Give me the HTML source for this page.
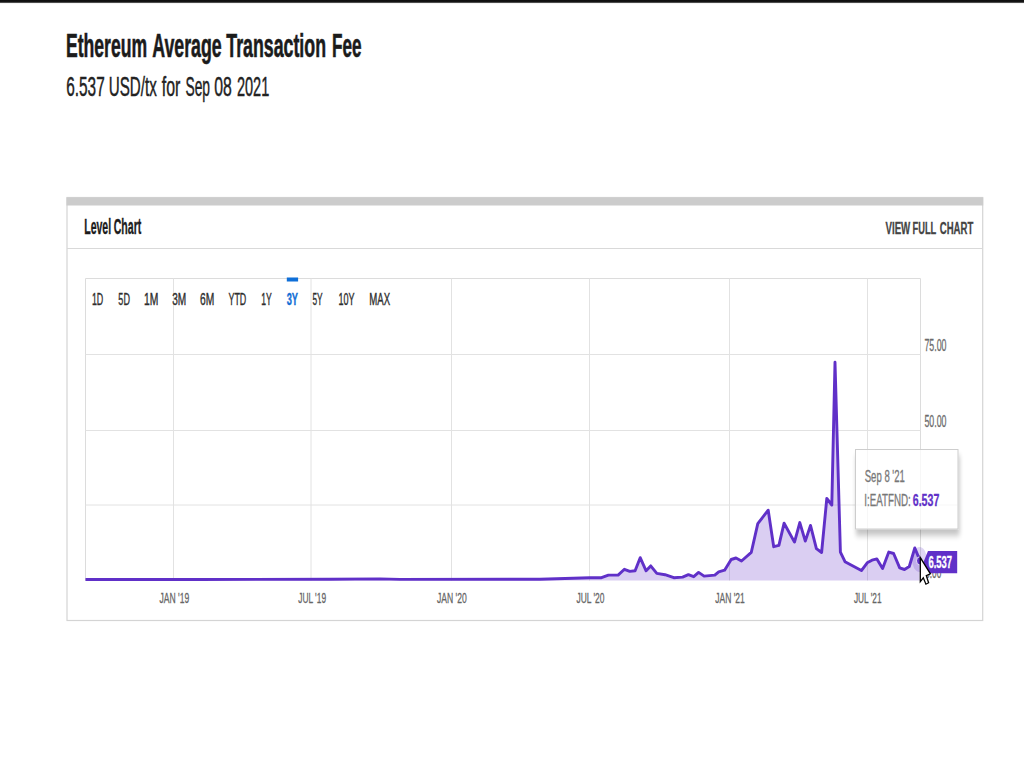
<!DOCTYPE html>
<html>
<head>
<meta charset="utf-8">
<title>Ethereum Average Transaction Fee</title>
<style>
html,body{margin:0;padding:0;background:#fff;width:1024px;height:768px;overflow:hidden}
svg{display:block;position:absolute;left:0;top:0}
text{font-family:"Liberation Sans",sans-serif}
.b{font-weight:bold}
</style>
</head>
<body>
<svg width="1024" height="768" viewBox="0 0 1024 768">
<defs>
<linearGradient id="topbar" x1="0" y1="0" x2="0" y2="1">
<stop offset="0" stop-color="#0e0e0e"/><stop offset="0.6" stop-color="#161616"/><stop offset="1" stop-color="#ffffff"/>
</linearGradient>
<filter id="sh" x="-20%" y="-20%" width="140%" height="160%">
<feGaussianBlur in="SourceAlpha" stdDeviation="2.2 3.4"/>
<feOffset dx="1" dy="5.5" result="o"/>
<feComponentTransfer><feFuncA type="linear" slope="0.24"/></feComponentTransfer>
<feMerge><feMergeNode/><feMergeNode in="SourceGraphic"/></feMerge>
</filter>
</defs>

<!-- top bar -->
<rect id="topbar_r" x="0" y="0" width="1024" height="3.6" fill="url(#topbar)"/>

<!-- headings -->
<text id="t1" class="b" x="65.97" y="57" font-size="32.4" fill="#1b1b1b" stroke="#1b1b1b" stroke-width="0.6" textLength="81.05" lengthAdjust="spacingAndGlyphs">Ethereum</text>
<text id="t2" class="b" x="152.23" y="57" font-size="32.4" fill="#1b1b1b" stroke="#1b1b1b" stroke-width="0.6" textLength="69.53" lengthAdjust="spacingAndGlyphs">Average</text>
<text id="t3" class="b" x="226.25" y="57" font-size="32.4" fill="#1b1b1b" stroke="#1b1b1b" stroke-width="0.6" textLength="99.76" lengthAdjust="spacingAndGlyphs">Transaction</text>
<text id="t4" class="b" x="331.93" y="57" font-size="32.4" fill="#1b1b1b" stroke="#1b1b1b" stroke-width="0.6" textLength="29.57" lengthAdjust="spacingAndGlyphs">Fee</text>
<text id="s1" x="66.21" y="96" font-size="27" fill="#222222" stroke="#222222" stroke-width="0.45" textLength="38.56" lengthAdjust="spacingAndGlyphs">6.537</text>
<text id="s2" x="108.71" y="96" font-size="27" fill="#222222" stroke="#222222" stroke-width="0.45" textLength="48.05" lengthAdjust="spacingAndGlyphs">USD/tx</text>
<text id="s3" x="161.73" y="96" font-size="27" fill="#222222" stroke="#222222" stroke-width="0.45" textLength="18.56" lengthAdjust="spacingAndGlyphs">for</text>
<text id="s4" x="185.49" y="96" font-size="27" fill="#222222" stroke="#222222" stroke-width="0.45" textLength="24.56" lengthAdjust="spacingAndGlyphs">Sep</text>
<text id="s5" x="214.23" y="96" font-size="27" fill="#222222" stroke="#222222" stroke-width="0.45" textLength="17.58" lengthAdjust="spacingAndGlyphs">08</text>
<text id="s6" x="236.97" y="96" font-size="27" fill="#222222" stroke="#222222" stroke-width="0.45" textLength="32.31" lengthAdjust="spacingAndGlyphs">2021</text>

<!-- panel -->
<rect x="67" y="197.5" width="915.7" height="423" fill="#fff" stroke="#d4d4d4" stroke-width="1.2"/>
<rect x="66.5" y="197.5" width="916.7" height="8" fill="#cccccc"/>
<line x1="67" y1="248.5" x2="982.7" y2="248.5" stroke="#d9d9d9" stroke-width="1.2"/>
<text id="h1" class="b" x="84.22" y="233.7" font-size="21.6" fill="#1b1b1b" stroke="#1b1b1b" stroke-width="0.35" textLength="26.84" lengthAdjust="spacingAndGlyphs">Level</text>
<text id="h2" class="b" x="113.74" y="233.7" font-size="21.6" fill="#1b1b1b" stroke="#1b1b1b" stroke-width="0.35" textLength="27.54" lengthAdjust="spacingAndGlyphs">Chart</text>
<text id="v1" class="b" x="885.45" y="233.7" font-size="17.4" fill="#444444" stroke="#444444" stroke-width="0.3" textLength="24.85" lengthAdjust="spacingAndGlyphs">VIEW</text>
<text id="v2" class="b" x="912.47" y="233.7" font-size="17.4" fill="#444444" stroke="#444444" stroke-width="0.3" textLength="23.79" lengthAdjust="spacingAndGlyphs">FULL</text>
<text id="v3" class="b" x="939.74" y="233.7" font-size="17.4" fill="#444444" stroke="#444444" stroke-width="0.3" textLength="33.54" lengthAdjust="spacingAndGlyphs">CHART</text>

<!-- plot frame & grid -->
<path d="M85.5,580.5 V278.5 H920.5 V580.5" fill="none" stroke="#dcdcdc" stroke-width="1"/>
<g stroke="#e2e2e2" stroke-width="1" fill="none">
<line x1="85.5" y1="354.5" x2="920.5" y2="354.5"/>
<line x1="85.5" y1="430.5" x2="920.5" y2="430.5"/>
<line x1="85.5" y1="505" x2="920.5" y2="505"/>
<line x1="173.5" y1="278.5" x2="173.5" y2="580.5"/>
<line x1="311" y1="278.5" x2="311" y2="580.5"/>
<line x1="451.5" y1="278.5" x2="451.5" y2="580.5"/>
<line x1="589.5" y1="278.5" x2="589.5" y2="580.5"/>
<line x1="729.5" y1="278.5" x2="729.5" y2="580.5"/>
<line x1="867.5" y1="278.5" x2="867.5" y2="580.5"/>
</g>

<!-- range buttons -->
<text id="r0" x="91.91" y="305.4" font-size="17" fill="#2e2e2e" stroke="#2e2e2e" stroke-width="0.4" textLength="11.36" lengthAdjust="spacingAndGlyphs">1D</text>
<text id="r1" x="118.36" y="305.4" font-size="17" fill="#2e2e2e" stroke="#2e2e2e" stroke-width="0.4" textLength="11.54" lengthAdjust="spacingAndGlyphs">5D</text>
<text id="r2" x="143.96" y="305.4" font-size="17" fill="#2e2e2e" stroke="#2e2e2e" stroke-width="0.4" textLength="14.36" lengthAdjust="spacingAndGlyphs">1M</text>
<text id="r3" x="172.22" y="305.4" font-size="17" fill="#2e2e2e" stroke="#2e2e2e" stroke-width="0.4" textLength="14.08" lengthAdjust="spacingAndGlyphs">3M</text>
<text id="r4" x="200.10" y="305.4" font-size="17" fill="#2e2e2e" stroke="#2e2e2e" stroke-width="0.4" textLength="14.29" lengthAdjust="spacingAndGlyphs">6M</text>
<text id="r5" x="228.45" y="305.4" font-size="17" fill="#2e2e2e" stroke="#2e2e2e" stroke-width="0.4" textLength="17.79" lengthAdjust="spacingAndGlyphs">YTD</text>
<text id="r6" x="261.14" y="305.4" font-size="17" fill="#2e2e2e" stroke="#2e2e2e" stroke-width="0.4" textLength="10.52" lengthAdjust="spacingAndGlyphs">1Y</text>
<text id="r7" class="b" x="286.70" y="305.4" font-size="17" fill="#1470d6" stroke="#1470d6" stroke-width="0.4" textLength="11.31" lengthAdjust="spacingAndGlyphs">3Y</text>
<text id="r8" x="312.40" y="305.4" font-size="17" fill="#2e2e2e" stroke="#2e2e2e" stroke-width="0.4" textLength="10.20" lengthAdjust="spacingAndGlyphs">5Y</text>
<text id="r9" x="338.49" y="305.4" font-size="17" fill="#2e2e2e" stroke="#2e2e2e" stroke-width="0.4" textLength="16.06" lengthAdjust="spacingAndGlyphs">10Y</text>
<text id="r10" x="369.24" y="305.4" font-size="17" fill="#2e2e2e" stroke="#2e2e2e" stroke-width="0.4" textLength="20.82" lengthAdjust="spacingAndGlyphs">MAX</text>
<rect x="286.8" y="277.5" width="11.3" height="4" fill="#0f6fd8"/>

<!-- y axis labels -->
<text id="y1" x="924.47" y="351" font-size="16" fill="#6b6b6b" stroke="#6b6b6b" stroke-width="0.3" textLength="22.05" lengthAdjust="spacingAndGlyphs">75.00</text>
<text id="y2" x="924.47" y="427" font-size="16" fill="#6b6b6b" stroke="#6b6b6b" stroke-width="0.3" textLength="22.04" lengthAdjust="spacingAndGlyphs">50.00</text>
<text id="y3" x="925.20" y="577.5" font-size="16" fill="#6b6b6b" stroke="#6b6b6b" stroke-width="0.3" textLength="16.05" lengthAdjust="spacingAndGlyphs">0.00</text>

<!-- x axis labels -->
<text id="x0" x="159.47" y="602.9" font-size="15" fill="#666666" stroke="#666666" stroke-width="0.3" textLength="29.78" lengthAdjust="spacingAndGlyphs">JAN &#39;19</text>
<text id="x1" x="298.22" y="602.9" font-size="15" fill="#666666" stroke="#666666" stroke-width="0.3" textLength="27.82" lengthAdjust="spacingAndGlyphs">JUL &#39;19</text>
<text id="x2" x="437.00" y="602.9" font-size="15" fill="#666666" stroke="#666666" stroke-width="0.3" textLength="29.78" lengthAdjust="spacingAndGlyphs">JAN &#39;20</text>
<text id="x3" x="576.47" y="602.9" font-size="15" fill="#666666" stroke="#666666" stroke-width="0.3" textLength="28.05" lengthAdjust="spacingAndGlyphs">JUL &#39;20</text>
<text id="x4" x="715.24" y="602.9" font-size="15" fill="#666666" stroke="#666666" stroke-width="0.3" textLength="29.53" lengthAdjust="spacingAndGlyphs">JAN &#39;21</text>
<text id="x5" x="853.98" y="602.9" font-size="15" fill="#666666" stroke="#666666" stroke-width="0.3" textLength="27.53" lengthAdjust="spacingAndGlyphs">JUL &#39;21</text>

<!-- series -->
<path d="M85.5,579.5 L200,579.5 L330,579.3 L380,578.9 L400,579.4 L540,579.2 L565,578.5 L589.8,577.7 L601.5,577.7 L608.4,575.1 L618.1,575.1 L624.4,569.3 L629.8,571.4 L635.1,570.8 L640.2,557.7 L646.1,570.8 L650.7,565.9 L656.8,573.4 L665,574.7 L673.8,577.7 L682.6,577.1 L688.4,574.7 L693.7,576.7 L698.6,572.4 L704.1,576.1 L714.8,575.1 L718.7,571.8 L724.6,570.2 L731.2,559.5 L736,558 L741.5,561 L751.3,552.3 L757.8,523.6 L768.2,510.2 L773.7,546.7 L778.9,545.4 L784.1,523.2 L794.5,542.1 L799.8,522.6 L805.3,541.1 L810.5,525.4 L816.4,548.6 L821.6,552.5 L826.8,498.5 L831.8,505 L835,362.2 L840.4,552.1 L845,561.7 L861.4,570.6 L867.2,562.8 L872,560.2 L876.9,558.9 L882.6,568.5 L888.8,552.1 L893.6,553.5 L899.7,567.9 L904.5,569.5 L909.3,566.5 L914.8,548 L919.6,559.6 L919.6,580.5 L85.5,580.5 Z" fill="#6030c8" fill-opacity="0.235" stroke="none"/>
<path d="M85.5,579.5 L200,579.5 L330,579.3 L380,578.9 L400,579.4 L540,579.2 L565,578.5 L589.8,577.7 L601.5,577.7 L608.4,575.1 L618.1,575.1 L624.4,569.3 L629.8,571.4 L635.1,570.8 L640.2,557.7 L646.1,570.8 L650.7,565.9 L656.8,573.4 L665,574.7 L673.8,577.7 L682.6,577.1 L688.4,574.7 L693.7,576.7 L698.6,572.4 L704.1,576.1 L714.8,575.1 L718.7,571.8 L724.6,570.2 L731.2,559.5 L736,558 L741.5,561 L751.3,552.3 L757.8,523.6 L768.2,510.2 L773.7,546.7 L778.9,545.4 L784.1,523.2 L794.5,542.1 L799.8,522.6 L805.3,541.1 L810.5,525.4 L816.4,548.6 L821.6,552.5 L826.8,498.5 L831.8,505 L835,362.2 L840.4,552.1 L845,561.7 L861.4,570.6 L867.2,562.8 L872,560.2 L876.9,558.9 L882.6,568.5 L888.8,552.1 L893.6,553.5 L899.7,567.9 L904.5,569.5 L909.3,566.5 L914.8,548 L919.6,559.6" fill="none" stroke="#6030c8" stroke-width="2.9" stroke-linejoin="round" stroke-linecap="butt"/>
<ellipse cx="919.5" cy="559.5" rx="7.5" ry="12.5" fill="#6030c8" fill-opacity="0.2"/>
<ellipse cx="919.5" cy="560.8" rx="3" ry="4" fill="#6030c8" stroke="#e9e2f8" stroke-width="1"/>
<polygon points="923.5,562 928,551 957.2,551 957.2,573.2 928,573.2" fill="#6030c8"/>
<text id="lb" class="b" x="928.47" y="567.6" font-size="17" fill="#ffffff" stroke="#ffffff" stroke-width="0.35" textLength="23.55" lengthAdjust="spacingAndGlyphs">6.537</text>

<!-- tooltip -->
<g filter="url(#sh)"><rect x="855.5" y="449.5" width="102.5" height="79.5" fill="#fff" stroke="#cdcdcd" stroke-width="1"/></g>
<g stroke="#d8d8d8" stroke-width="1" stroke-opacity="0.2"><line x1="856" y1="505" x2="957.5" y2="505"/><line x1="867.5" y1="450" x2="867.5" y2="528.5"/><line x1="920.5" y1="450" x2="920.5" y2="528.5"/></g>
<text id="tt1" x="864.75" y="481.5" font-size="17" fill="#777777" stroke="#777777" stroke-width="0.3" textLength="40.02" lengthAdjust="spacingAndGlyphs">Sep 8 &#39;21</text>
<text id="tt2" x="864.22" y="505.6" font-size="17" fill="#777777" stroke="#777777" stroke-width="0.3" textLength="46.54" lengthAdjust="spacingAndGlyphs">I:EATFND:</text>
<text id="tt3" class="b" x="912.74" y="505.6" font-size="17" fill="#6030c8" stroke="#6030c8" stroke-width="0.3" textLength="26.54" lengthAdjust="spacingAndGlyphs">6.537</text>

<!-- cursor -->
<path d="M920.3,557.6 L920.3,581.6 L923.3,577.8 L925.9,584.2 L928.6,582.7 L926.3,575.6 L930.4,573.8 Z" fill="#fff" stroke="#000" stroke-width="1.3" stroke-linejoin="miter"/>
</svg>
</body>
</html>
